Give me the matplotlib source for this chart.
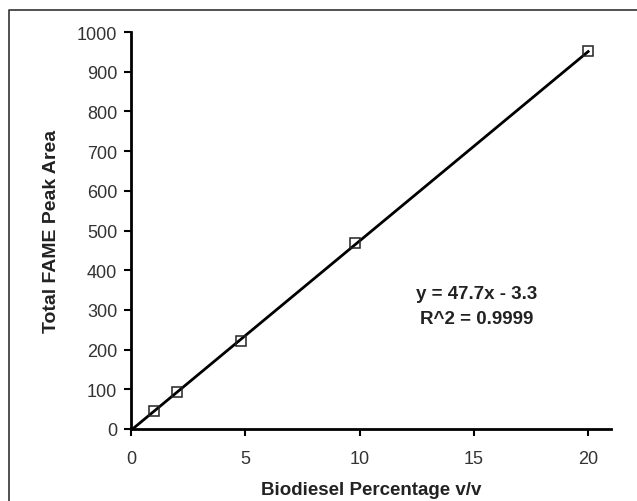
import numpy as np
import matplotlib.pyplot as plt
from matplotlib.lines import Line2D

plt.rcParams['font.family'] = ['Liberation Sans', 'DejaVu Sans']

# calibration data
biodiesel_pct = [1.0, 2.0, 4.8, 9.8, 20.0]
peak_area = [46, 94, 222, 468, 952]
slope = 47.7
intercept = -3.3
r_squared = 0.9999
x_ticks = [0, 5, 10, 15, 20]
y_ticks = [0, 100, 200, 300, 400, 500, 600, 700, 800, 900, 1000]

W, H = 637, 502
fig = plt.figure(figsize=(W / 100, H / 100), dpi=100)
ax = fig.add_axes([131 / W, (H - 430) / H, (611 - 131) / W, (430 - 33) / H])

# fitted trend line
xs = np.array([0, biodiesel_pct[-1]])
ax.plot(xs, slope * xs + intercept, color='black', lw=2, zorder=2, clip_on=True)
ax.plot(biodiesel_pct, peak_area, linestyle='none', marker='s', ms=7,
        mfc='none', mec='#222222', mew=1.1, zorder=3, clip_on=False)

ax.set_xlim(0, 21)
ax.set_ylim(0, 1000)
ax.set_xticks(x_ticks)
ax.set_yticks(y_ticks)
for s in ['top', 'right']:
    ax.spines[s].set_visible(False)
for s in ['left', 'bottom']:
    ax.spines[s].set_linewidth(2)
ax.tick_params(axis='both', direction='out', length=5, width=1.5,
               labelsize=13, labelcolor='#333333', pad=5)
ax.tick_params(axis='x', pad=10)

ax.set_xlabel('Biodiesel Percentage v/v', fontsize=13.5, fontweight='bold',
              color='#222222', labelpad=10)
ax.set_ylabel('Total FAME Peak Area', fontsize=14, fontweight='bold',
              color='#222222', labelpad=12)

ax.text(0.72, 0.31, 'y = %.1fx - %.1f\nR^2 = %.4f' % (slope, -intercept, r_squared),
        transform=ax.transAxes, ha='center', va='center', fontsize=13.5,
        fontweight='bold', color='#222222', linespacing=1.55)

# frame of the cropped figure (only top and left show)
fig.add_artist(Line2D([9 / W, 9 / W, 1], [0, 1 - 11 / H, 1 - 11 / H],
                      transform=fig.transFigure, color='#333333', lw=1.2))

fig.savefig('out.png', dpi=100)
